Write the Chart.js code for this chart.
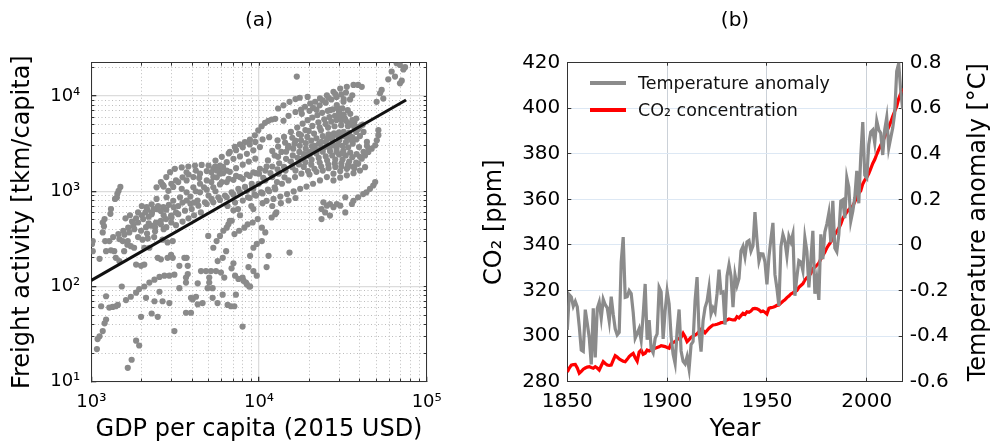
<!DOCTYPE html>
<html lang="en">
<head>
<meta charset="UTF-8">
<title>Freight activity vs GDP, CO2 and temperature</title>
<script src="https://cdn.jsdelivr.net/npm/chart.js"></script>
<style>
  body { margin: 0; background: #fff; }
  #wrap { position: relative; width: 992px; height: 444px; overflow: hidden; background: #fff; }
  #chartA { position: absolute; left: 0; top: 0; }
  #chartB { position: absolute; left: 470px; top: 0; }
  .legend { position: absolute; left: 590px; top: 69px; font: 17.5px 'DejaVu Sans', sans-serif; color: #111; }
  .legend div { height: 27px; display: flex; align-items: center; }
  .legend span.swatch { display: inline-block; width: 36px; height: 4px; margin-right: 12px; }
</style>
</head>
<body>
<div id="wrap">
  <canvas id="chartA" width="496" height="444"></canvas>
  <canvas id="chartB" width="522" height="444"></canvas>
  <div class="legend">
    <div><span class="swatch" style="background:#8b8b8b"></span>Temperature anomaly</div>
    <div><span class="swatch" style="background:#ff0000"></span>CO₂ concentration</div>
  </div>
</div>
<script>
// ---- panel (a): GDP per capita (2015 USD) vs freight activity (tkm/capita)
const scatterPoints = [
  [1020,300],[1020,235],[1010,280],[1120,195],[1170,370],[1200,510],[1170,470],[1190,430],[1210,300],[1225,235],
  [1145,62],[1225,79],[1225,45],[1200,41],[1170,34],[1120,30],[1090,28],[1080,22],[1280,300],[1300,580],[1310,650],[1280,60],
  [1385,830],[1420,860],[1430,940],[1490,1110],[1455,1010],[1370,235],[1310,240],[1400,200],[1470,185],[1470,315],
  [1540,300],[1570,235],[1640,275],[1720,265],[1800,255],[1340,61],[1400,62],[1440,64],[1520,100],[1610,72],[1720,78],
  [1850,86],[1930,94],[1650,14],[1740,17],[1850,27],[1930,24],[1980,48],
  [1350,330],[1450,355],[1550,385],[1660,415],[1780,435],[1900,470],[2040,510],
  [1575,350],[1685,370],[1805,400],[1980,385],[2120,420],[2270,435],[2430,470],[2600,490],[2790,510],[2990,555],[3200,600],
  [2020,310],[2170,320],[2370,330],[2660,310],[2850,290],[3060,300],[2070,255],[2220,255],[2490,200],[2600,193],
  [2850,200],[3060,200],[2990,215],[1850,170],[1980,165],[2070,170],
  [2070,100],[2220,110],[2380,118],[2550,126],[2730,130],[2920,130],[3130,133],[3350,96],[3670,124],[3760,135],[3760,165],[3670,110],
  [2120,76],[2380,70],[2550,88],[2660,70],[2920,67],[2290,52],[2490,48],[3130,34],
  [3930,76],[4020,73],[4210,78],[4310,65],[4610,67],[3670,53],[3930,53],
  [4310,108],[4510,145],[4830,145],[5170,145],[5540,145],[5930,140],[6210,124],[5050,124],[5050,110],[4940,96],[5290,96],
  [5290,76],[5660,67],[6070,82],[6500,64],[6800,62],[7130,62],[7280,82],[7980,38],[7980,124],[8360,110],[8740,100],
  [10400,415],[10900,370],[10400,300],[9700,280],[9260,255],[8850,210],[8650,160],[9260,145],[9700,130],[11100,160],
  [11400,210],[11900,530],[12500,575],[12700,600],[6860,155],[7200,130],[7540,120],[8080,115],[8470,105],[8850,100],
  [5590,300],[5850,340],[6130,385],[6420,415],[6570,450],[6880,490],[5340,255],[4980,340],[3700,200],[7040,175],
  [7140,355],[7610,385],[8180,415],[8560,450],[9170,470],[9830,510],[5670,185],[6080,200],[6370,235],[3590,200],[3350,165],
  [15200,227],
  [24200,765],[25400,705],[26500,735],[27800,680],[29100,735],[30500,705],[24800,600],[26500,555],[32700,600],[32700,865],
  [35800,735],[36600,795],[39000,865],[41800,935],[43700,975],[45900,1060],[48000,1150],[49300,1250],[23600,650],[23600,510],
  [50400,3430],[49300,3040],[47000,2800],[44900,2590],[42900,2380],[41000,2200],[51500,4380],[51500,3880],
  [21600,8710],[23100,9450],[25400,10200],[27800,11100],[30500,12000],[33400,12500],[36600,13100],[39000,13100],[41000,12500],
  [20200,8350],[18800,7720],[26500,7110],[29100,8030],[31900,8710],[34900,9220],[16800,16000],
  [66200,22100],[74300,20100],[61800,18100],[59000,15000],[69300,13600],[52700,10700],[50300,8700],[72600,19000],
  [69300,21200],[55100,9400],[64700,16000],[53900,11600],[71000,14500],
  [2800,1410],[2950,1585],[3150,1720],[3460,1780],[3790,1820],[4150,1860],[4550,1890],[5000,1860],[5470,1820],[5840,1720],
  [6700,2590],[7180,2920],[7700,3110],[8250,3290],[8830,3480],[9450,3870],[9900,4370],[10370,4820],[10870,5230],[11370,5490],[11900,5670],[12500,5760],
  [3380,865],[3700,977],[4060,1100],[4450,1200],[4880,1300],[5340,1410],[5850,1530],[6420,1650],
  [3010,530],[3300,575],[3620,625],[3970,650],[4350,705],[4760,765],[5220,830],[5720,865],[6270,900],[6870,975],[7530,1060],[8250,1110],[9050,1200],
  [2450,1100],[2690,1150],[2880,1010],[3080,1110],[3460,1060],[2810,865],[3080,795],[2450,830],[2290,730],[2140,680],
  [2450,650],[2690,680],[2290,575],[2600,1250],[2650,1180],[2700,1120],[2000,700],[2150,640],[2300,600],
  [7040,630],[7700,560],[6700,490],[9250,650],[3700,1580],
  [12900,3430],[14100,3720],[15500,4200],[16900,4660],[18200,5130],[19500,5580],[20800,5950],[22300,6310],[23800,6670],[25700,7000],[27500,7230],[29400,7410],[31400,7410],[33800,7110],
  [11300,2110],[12400,2380],[13600,2590],[14900,2870],[16300,3160],[17800,3430],[19400,3720],[21300,4040],[23400,4370],[25800,4660],[28200,4820],[30900,4940],[33900,4820],[37100,4660],
  [10000,1530],[10900,1650],[12000,1820],[13200,1970],[14500,2190],[15900,2380],[17400,2590],[19000,2800],[20700,2970],[22800,3160],[25000,3290],[27400,3430],[30100,3430],[33000,3290],[36200,3160],[39500,2910],
  [9100,1100],[9950,1200],[10900,1300],[12000,1410],[13100,1530],[14400,1650],[15800,1790],[17300,1910],[18900,2020],[20600,2140],[22700,2240],[25000,2320],[27300,2380],[30000,2440],[32900,2380],[36000,2280],
  [8600,865],[9400,920],[10300,977],[11300,1040],[12400,1100],[13700,1200],[15000,1300],[16400,1410],[17900,1530],[19600,1630],[21400,1720],[23500,1820],[25900,1910],[28300,1970],[31000,1970],[34000,1910],
  [11100,794],[12200,830],[13400,880],[14700,935],[16100,995],[17600,1060],[19200,1120],[21000,1200],[23100,1300],[25400,1410],[27800,1530],[30500,1630],[33400,1720],[36600,1820],[39000,1940],
  [4880,735],[5340,765],[5850,810],[6420,865],[7040,920],[7700,977],[8470,1010],[9250,1060],
  [3700,1300],[4060,1410],[4450,1530],[4880,1630],[5340,1720],[5850,1860],[6420,2020],[7040,2190],[7700,2320],[8470,2470],[9250,2690],[10130,2910],
  [4450,977],[4880,1040],[5340,1100],[5850,1180],[6420,1250],[7040,1320],[7700,1410],[8470,1500],[9250,1580],[10130,1720],[11100,1820],
  [27800,1300],[30500,1390],[33400,1470],[36600,1550],[40000,1650],[42900,1790],
  [13000,2950],[14300,3250],[15800,3650],[17300,4000],[18900,4400],[20800,4850],[22600,5300],[24500,5700],[26300,6000],[28400,6200],[30200,6050],[32500,5800],
  [10600,1380],[11700,1550],[12900,1700],[14100,1800],[15500,2050],[17000,2250],[18500,2450],[20200,2600],[22100,2700],[24200,2850],[26400,2900],[29000,2800],[31800,2650],[35000,2550],[38200,2450],
  [5600,1400],[6100,1550],[6700,1600],[7300,1750],[8000,1900],[8700,2050],[9500,2200],[6000,1250],[6600,1350],[7300,1450],
  [8000,1350],[8800,1450],[9600,1550],[5200,1250],[4700,1100],[4200,1000],[3900,880],[4300,800],[5000,900],[5500,1000],
  [38000,3500],[40000,3800],[42000,4200],[39000,4500],[41500,5000],[37000,5300],[44000,3300],[45000,2800],
  [14000,8000],[15200,8700],[16500,9300],[17500,9600],[13000,7400],[19500,9800],[14000,5500],[15000,6200],[16500,6800],[17800,7200],
  [1600,520],[1700,560],[1750,480],[1850,520],[1900,600],[2000,560],[2100,600],[2200,540],[2350,650],[2500,700],
  [2600,620],[2700,560],[2800,640],[2900,720],[3100,680],[3300,700],[3500,760],[3700,800],[3900,740],[4100,760],
  [2200,460],[2400,420],[2600,450],[2800,420],[3000,470],[3200,440],[3500,480],[3800,520],[4100,560],[4500,600],
  [1650,300],[1900,330],[2150,360],[2400,380],[2700,400],
  [3200,1300],[3500,1400],[3800,1500],[4200,1650],[3000,1200],[3300,1250],[4400,1380],[5200,1580],[5600,1650],[6100,1800],
  [14500,2600],[16000,2800],[17500,3000],[19000,3200],[20500,3400],[22000,3600],[24000,3800],[26000,3950],[28000,4050],[30000,4150],
  [32000,4200],[34500,4100],[18000,2200],[20000,2350],[22000,2500],[24000,2600],[26500,2650],[29000,2600],[31500,2500],
  [16500,1650],[18500,1800],[20500,1900],[23000,2000],[25500,2100],[28500,2150],[31500,2150],[34500,2050],[38000,2000],
  [40000,2300],[42000,2600],[44000,3000],[36000,3700],[38000,4200],[34000,5200],[36000,5600],[32000,6400],[30000,6800],
  [35000,6500],[38000,5800],[40000,4800],
  [21000,7500],[23000,8000],[25000,8500],[27000,9200],[29000,9800],[31000,10400],[33000,10900],[24000,9000],[26000,9600],
  [28500,10500],[20000,7000],[18000,6500],[22000,7200],[32000,9300],[36000,10200],
  [6500,700],[7200,760],[8000,800],[8800,850],[9600,900],[10500,950],[11500,1000],[12500,1050],[7500,650],[9000,700],
  [10500,750],[12000,700],[13500,750],[15000,800],[16500,850],
  [6000,2300],[6600,2500],[7300,2700],[8000,2900],[8800,3100],[5500,2100],[9500,3300],[10500,3500],[11500,3700],
  [21500,3000],[23500,3300],[25500,3550],[27500,3750],[29500,3850],[31500,3800],[33500,3650],[35500,3450],
  [19500,2450],[21500,2650],[23500,2800],[25500,2950],[27500,3050],[29500,3100],[31500,3000],[34000,2900],
  [20000,1500],[22000,1600],[24000,1650],[26000,1750],[28500,1800],[31000,1820],[34000,1800],[37000,1750],
  [23000,4700],[25000,5100],[27000,5400],[29000,5600],[31000,5600],[33000,5500],[35000,5000],[37000,4900],
  [12000,2650],[13000,2300],[15000,3000],[16500,3400],[17800,3900],[19800,4300],[12800,1250],[14200,1400]
];
const fitGdp = [1000, 75300];
const fitFreight = [116, 9080];

const gdpMajorTicks = [1e3, 1e4, 1e5];
const gdpMinorTicks = [2e3, 3e3, 4e3, 5e3, 6e3, 7e3, 8e3, 9e3, 2e4, 3e4, 4e4, 5e4, 6e4, 7e4, 8e4, 9e4];
const freightMajorTicks = [1e1, 1e2, 1e3, 1e4];
const freightMinorTicks = [20, 30, 40, 50, 60, 70, 80, 90, 200, 300, 400, 500, 600, 700, 800, 900,
  2e3, 3e3, 4e3, 5e3, 6e3, 7e3, 8e3, 9e3, 2e4];

// ---- panel (b): annual values 1850-2018
const firstYear = 1850;
const co2Ppm = [
  284.3, 286.0, 287.3, 287.5, 287.6, 286.0, 283.7, 284.5, 285.5, 286.0,
  286.4, 286.6, 286.2, 285.9, 286.6, 286.0, 285.1, 287.0, 288.8, 288.0,
  287.3, 287.2, 287.3, 289.5, 291.4, 290.8, 290.0, 289.5, 289.0, 288.8,
  289.8, 291.0, 291.8, 292.4, 290.5, 289.0, 293.0, 293.9, 292.0, 292.5,
  293.9, 293.5, 294.0, 294.4, 294.7, 295.0, 295.3, 295.8, 295.6, 295.4,
  295.0, 294.7, 296.8, 297.2, 297.6, 298.5, 299.0, 299.5, 301.2, 299.7,
  297.6, 298.5, 299.5, 300.0, 300.5, 301.0, 302.0, 303.0, 302.5, 301.5,
  302.5, 303.5, 304.2, 304.9, 305.0, 305.2, 305.5, 305.9, 306.0, 306.5,
  307.1, 307.5, 307.3, 307.1, 307.1, 308.5, 308.0, 309.0, 310.0, 309.5,
  310.7, 310.5, 311.0, 312.0, 312.2, 312.0, 311.5, 310.7, 311.0, 310.5,
  309.7, 312.2, 312.5, 312.7, 313.0, 313.5, 313.7, 314.5, 315.3, 315.9,
  316.9, 317.6, 318.5, 319.0, 319.6, 320.0, 321.4, 322.2, 323.0, 324.6,
  325.7, 326.3, 327.5, 329.7, 330.2, 331.1, 332.1, 333.8, 335.4, 336.8,
  338.7, 340.1, 341.4, 343.0, 344.6, 346.0, 347.4, 349.2, 351.6, 353.1,
  354.4, 355.6, 356.5, 357.1, 358.9, 360.9, 362.7, 363.8, 366.8, 368.5,
  369.7, 371.3, 373.5, 375.8, 377.5, 379.8, 381.9, 383.8, 385.6, 387.4,
  389.9, 391.7, 393.9, 396.5, 398.7, 400.8, 404.2, 406.6, 408.7
];
const tempAnomaly = [
  -0.373, -0.218, -0.228, -0.269, -0.248, -0.272, -0.358, -0.461, -0.467, -0.284,
  -0.343, -0.407, -0.524, -0.278, -0.494, -0.279, -0.251, -0.321, -0.238, -0.262,
  -0.276, -0.335, -0.227, -0.304, -0.368, -0.395, -0.384, -0.075, 0.035, -0.230,
  -0.227, -0.200, -0.213, -0.296, -0.409, -0.389, -0.367, -0.418, -0.307, -0.171,
  -0.416, -0.330, -0.455, -0.473, -0.410, -0.390, -0.186, -0.206, -0.412, -0.289,
  -0.203, -0.259, -0.402, -0.479, -0.520, -0.377, -0.283, -0.465, -0.511, -0.522,
  -0.490, -0.544, -0.437, -0.424, -0.244, -0.141, -0.383, -0.468, -0.333, -0.275,
  -0.247, -0.187, -0.302, -0.276, -0.294, -0.215, -0.108, -0.210, -0.206, -0.350,
  -0.137, -0.087, -0.137, -0.273, -0.131, -0.178, -0.147, -0.026, -0.006, -0.052,
  0.014, 0.020, -0.027, -0.004, 0.144, 0.025, -0.071, -0.038, -0.039, -0.074,
  -0.173, -0.052, 0.028, 0.097, -0.129, -0.190, -0.267, -0.007, 0.046, 0.017,
  -0.049, 0.038, 0.014, 0.048, -0.223, -0.140, -0.068, -0.074, -0.113, 0.032,
  -0.027, -0.186, -0.065, 0.062, -0.214, -0.149, -0.241, 0.047, -0.062, 0.057,
  0.092, 0.140, 0.011, 0.194, -0.014, -0.030, 0.045, 0.192, 0.198, 0.118,
  0.296, 0.254, 0.105, 0.148, 0.208, 0.325, 0.183, 0.390, 0.539, 0.306,
  0.294, 0.441, 0.496, 0.505, 0.447, 0.545, 0.506, 0.491, 0.395, 0.506,
  0.560, 0.425, 0.470, 0.514, 0.579, 0.763, 0.797, 0.677, 0.597
];
const yearTicks = [1850, 1900, 1950, 2000];
const co2Ticks = [280, 300, 320, 340, 360, 380, 400, 420];
const tempTicks = [-0.6, -0.4, -0.2, 0, 0.2, 0.4, 0.6, 0.8];
const tempTickLabels = ['-0.6', '-0.4', '-0.2', '0', '0.2', '0.4', '0.6', '0.8'];

Chart.defaults.font.family = "'DejaVu Sans', sans-serif";
Chart.defaults.color = '#000';

const FRAME = '#333';
const supDigits = { '0': '⁰', '1': '¹', '2': '²', '3': '³', '4': '⁴', '5': '⁵' };
function powerLabel(v) {
  const e = String(Math.round(Math.log10(v)));
  return '10' + e.split('').map(c => supDigits[c]).join('');
}
const setTicks = list => scale => { scale.ticks = list.map(v => ({ value: v })); };
const setWidth = w => scale => { scale.width = w; };
const setHeight = h => scale => { scale.height = h; };

// helper scale pieces for the frame ticks and the dotted minor grid
function frameAxis(position, type, min, max, list, size) {
  const horiz = position === 'top' || position === 'bottom';
  return {
    type, position, min, max,
    afterBuildTicks: setTicks(list),
    afterFit: horiz ? setHeight(size) : setWidth(size),
    ticks: { display: false },
    grid: { drawOnChartArea: false, tickLength: -3, tickColor: FRAME },
    border: { color: FRAME, width: 1 }
  };
}
function minorAxis(position, min, max, list) {
  const horiz = position === 'top' || position === 'bottom';
  return {
    type: 'logarithmic', position, min, max, weight: -1,
    afterBuildTicks: setTicks(list),
    afterFit: horiz ? setHeight(0) : setWidth(0),
    ticks: { display: false },
    grid: { color: '#bdbdbd', lineWidth: 1, tickLength: -3, tickColor: FRAME },
    border: { display: false, dash: [1, 2.5] }
  };
}

const titleOpts = text => ({
  display: true, text, fullSize: false,
  font: { size: 20, weight: 'normal' }, color: '#000',
  padding: { top: 9, bottom: 29.7 }
});

new Chart(document.getElementById('chartA'), {
  type: 'scatter',
  data: {
    datasets: [
      {
        data: fitGdp.map((g, i) => ({ x: g, y: fitFreight[i] })),
        showLine: true,
        borderColor: '#111',
        borderWidth: 3,
        pointRadius: 0
      },
      {
        data: scatterPoints.map(p => ({ x: p[0], y: p[1] })),
        backgroundColor: '#8a8a8a',
        borderWidth: 0,
        pointRadius: 3.1
      }
    ]
  },
  options: {
    responsive: false,
    animation: false,
    layout: { padding: 0 },
    plugins: {
      legend: { display: false },
      tooltip: { enabled: false },
      title: titleOpts('(a)')
    },
    scales: {
      x: {
        type: 'logarithmic', position: 'bottom', min: 1e3, max: 1e5,
        afterBuildTicks: setTicks(gdpMajorTicks),
        afterFit: setHeight(62.3),
        ticks: { callback: v => powerLabel(v), font: { size: 18 }, padding: 15, maxRotation: 0, autoSkip: false },
        grid: { color: '#dcdcdc', lineWidth: 1.3, tickLength: -5, tickColor: FRAME },
        border: { color: FRAME, width: 1 },
        title: { display: true, text: 'GDP per capita (2015 USD)', font: { size: 24 }, padding: 0 }
      },
      xMinor: minorAxis('bottom', 1e3, 1e5, gdpMinorTicks),
      xTop: frameAxis('top', 'logarithmic', 1e3, 1e5, gdpMajorTicks.concat(gdpMinorTicks), 0),
      y: {
        type: 'logarithmic', position: 'left', min: 10, max: 22400,
        afterBuildTicks: setTicks(freightMajorTicks),
        afterFit: setWidth(91.3),
        ticks: { callback: v => powerLabel(v), font: { size: 18 }, padding: 16, autoSkip: false },
        grid: { color: '#dcdcdc', lineWidth: 1.3, tickLength: -5, tickColor: FRAME },
        border: { color: FRAME, width: 1 },
        title: { display: true, text: 'Freight activity [tkm/capita]', font: { size: 24 }, padding: { top: 8, bottom: 0 } }
      },
      yMinor: minorAxis('left', 10, 22400, freightMinorTicks),
      yRight: frameAxis('right', 'logarithmic', 10, 22400, freightMajorTicks.concat(freightMinorTicks), 69.3)
    }
  }
});

// right-hand axis title reads bottom to top, as on the left
const rightTitle = {
  id: 'rightTitle',
  afterDraw(chart) {
    const { ctx, chartArea } = chart;
    ctx.save();
    ctx.translate(chart.width - 13, (chartArea.top + chartArea.bottom) / 2);
    ctx.rotate(-Math.PI / 2);
    ctx.font = "24px 'DejaVu Sans', sans-serif";
    ctx.fillStyle = '#000';
    ctx.textAlign = 'center';
    ctx.textBaseline = 'middle';
    ctx.fillText('Temperature anomaly [°C]', 0, 0);
    ctx.restore();
  }
};

new Chart(document.getElementById('chartB'), {
  type: 'line',
  data: {
    datasets: [
      {
        label: 'Temperature anomaly',
        data: tempAnomaly.map((v, i) => ({ x: firstYear + i, y: v })),
        yAxisID: 'y2',
        borderColor: '#8b8b8b',
        borderWidth: 3.2,
        pointRadius: 0,
        tension: 0
      },
      {
        label: 'CO₂ concentration',
        data: co2Ppm.map((v, i) => ({ x: firstYear + i, y: v })),
        yAxisID: 'y',
        borderColor: '#ff0000',
        borderWidth: 3.2,
        pointRadius: 0,
        tension: 0
      }
    ]
  },
  options: {
    responsive: false,
    animation: false,
    layout: { padding: 0 },
    plugins: {
      legend: { display: false },
      tooltip: { enabled: false },
      title: titleOpts('(b)')
    },
    scales: {
      x: {
        type: 'linear', position: 'bottom', min: 1850, max: 2018,
        afterBuildTicks: setTicks(yearTicks),
        afterFit: setHeight(62.3),
        ticks: { callback: v => String(v), font: { size: 20 }, padding: 12, maxRotation: 0, autoSkip: false },
        grid: { color: '#cbd1d8', lineWidth: 1, tickLength: -4, tickColor: FRAME },
        border: { color: FRAME, width: 1 },
        title: { display: true, text: 'Year', font: { size: 24 }, padding: 0 }
      },
      xTop: frameAxis('top', 'linear', 1850, 2018, yearTicks, 0),
      y: {
        type: 'linear', position: 'left', min: 280, max: 420,
        afterBuildTicks: setTicks(co2Ticks),
        afterFit: setWidth(97.3),
        ticks: { font: { size: 20 }, padding: 11, autoSkip: false },
        grid: { color: '#dde8f4', lineWidth: 1, tickLength: -4, tickColor: FRAME },
        border: { color: FRAME, width: 1 },
        title: { display: true, text: 'CO₂ [ppm]', font: { size: 24 }, padding: { top: 10, bottom: 0 } }
      },
      y2: {
        type: 'linear', position: 'right', min: -0.6, max: 0.8,
        afterBuildTicks: setTicks(tempTicks),
        afterFit: setWidth(89.3),
        ticks: { font: { size: 20 }, padding: 11, autoSkip: false, callback: (v, i) => tempTickLabels[i] },
        grid: { drawOnChartArea: false, tickLength: -4, tickColor: FRAME },
        border: { color: FRAME, width: 1 }
      }
    }
  },
  plugins: [rightTitle]
});
</script>
</body>
</html>
